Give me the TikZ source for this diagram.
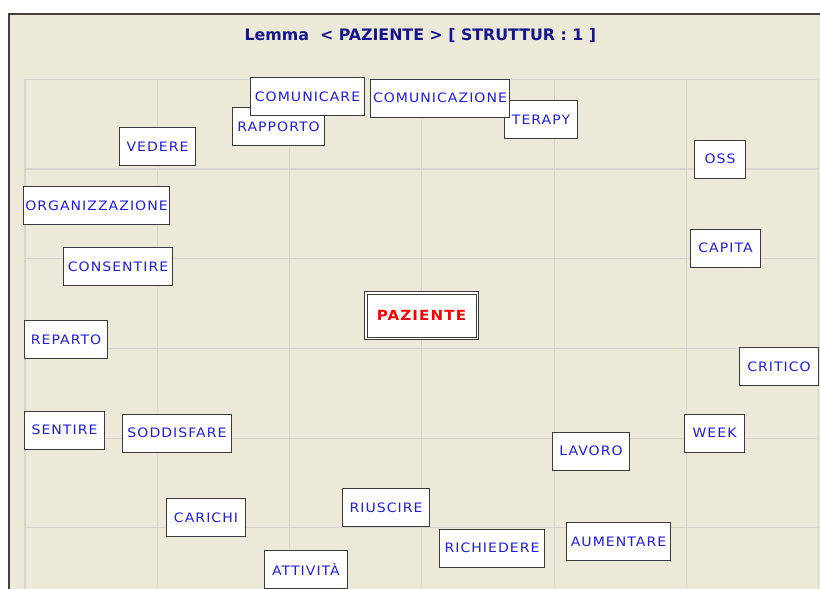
\documentclass[tikz,border=0pt]{standalone}
\usepackage{fontspec}
\newfontfamily\lblfont[FakeStretch=1.08,LetterSpace=8]{DejaVu Sans}
\newfontfamily\ttlfont{DejaVu Sans}
\definecolor{panelbg}{RGB}{236,233,216}
\definecolor{gridcol}{RGB}{214,212,204}
\definecolor{framecol}{RGB}{64,64,64}
\definecolor{boxline}{RGB}{58,58,58}
\definecolor{wordcol}{RGB}{30,30,226}
\definecolor{titlecol}{RGB}{20,20,140}
\definecolor{keycol}{RGB}{255,0,0}
\tikzset{
  word/.style={draw=boxline, line width=1pt, fill=white, inner sep=0pt,
    text=wordcol, font=\lblfont\fontsize{13}{13}\selectfont,
    minimum height=38pt},
  keyword/.style={draw=boxline, line width=1pt, double=white,
    double distance=1.5pt, fill=white, inner sep=0pt, text=keycol,
    font=\lblfont\bfseries\fontsize{14}{14}\selectfont},
  gridline/.style={draw=gridcol, line width=1.1pt},
}
\begin{document}
\begin{tikzpicture}[x=1pt, y=-1pt]
  \useasboundingbox (0,0) rectangle (820,589);
  % page and panel
  \fill[white] (0,0) rectangle (820,589);
  \fill[panelbg] (9,14) rectangle (820,589);
  % grid
  \foreach \gx in {25,157.3,289.6,421.9,554.2,686.5,818.8}
    \draw[gridline] (\gx,79.3) -- (\gx,589);
  \foreach \gy in {79.3,169,258.7,348.4,438.1,527.8}
    \draw[gridline] (25,\gy) -- (818.8,\gy);
  % panel frame
  \draw[framecol, line width=1.1pt] (9,589) -- (9,14) -- (820,14);
  % title
  \node[anchor=base, text=titlecol, inner sep=0pt,
        font=\ttlfont\bfseries\fontsize{15.8}{16}\selectfont]
    (title) at (420.4,40) {Lemma\ \ <\ PAZIENTE\ >\ [\ STRUTTUR\ :\ 1\ ]};
  % word boxes (lower boxes first where they overlap)
  \node[word, minimum width=92pt] (rapporto) at (278.5,126.5) {RAPPORTO};
  \node[word, minimum width=114pt] (comunicare) at (307.5,96.5) {COMUNICARE};
  \node[word, minimum width=73pt] (terapy) at (541,119.5) {TERAPY};
  \node[word, minimum width=139pt] (comunicazione) at (440,98) {COMUNICAZIONE};
  \node[word, minimum width=76pt] (vedere) at (157.5,146.5) {VEDERE};
  \node[word, minimum width=146pt] (organizzazione) at (96.5,205.5) {ORGANIZZAZIONE};
  \node[word, minimum width=109pt] (consentire) at (118,266.5) {CONSENTIRE};
  \node[word, minimum width=51pt] (oss) at (720,159) {OSS};
  \node[word, minimum width=70pt] (capita) at (725.5,248) {CAPITA};
  \node[word, minimum width=83pt] (reparto) at (66,339.5) {REPARTO};
  \node[word, minimum width=80pt] (sentire) at (64.5,430) {SENTIRE};
  \node[word, minimum width=109pt] (soddisfare) at (177,433) {SODDISFARE};
  \node[word, minimum width=79pt] (carichi) at (206,517.5) {CARICHI};
  \node[word, minimum width=87pt] (riuscire) at (386,507.5) {RIUSCIRE};
  \node[word, minimum width=83pt] (attivita) at (306,569.5) {ATTIVITÀ};
  \node[word, minimum width=79pt] (critico) at (779,366.5) {CRITICO};
  \node[word, minimum width=60pt] (week) at (714.5,433) {WEEK};
  \node[word, minimum width=77pt] (lavoro) at (591,451) {LAVORO};
  \node[word, minimum width=105pt] (richiedere) at (492,548) {RICHIEDERE};
  \node[word, minimum width=104pt] (aumentare) at (618.5,541.5) {AUMENTARE};
  % central lemma
  \node[keyword, minimum width=111.5pt, minimum height=45.5pt]
    (paziente) at (421.5,315.5) {PAZIENTE};
\end{tikzpicture}
\end{document}
